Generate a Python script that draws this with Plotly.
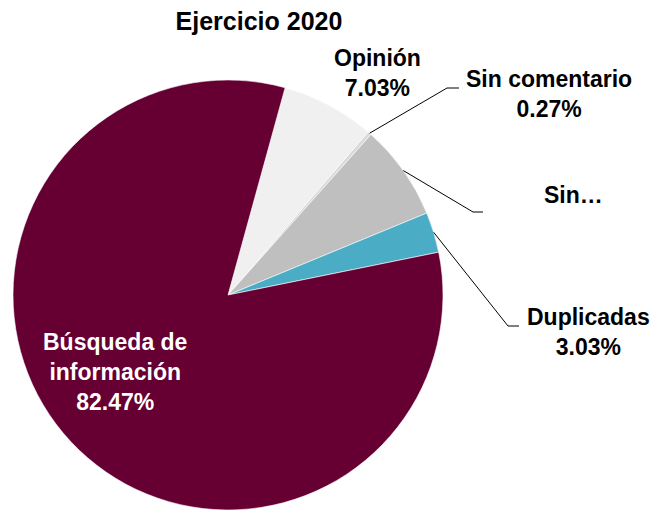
import plotly.graph_objects as go
import math

# Data
categories = ["Opinión", "Sin comentario", "Sin…", "Duplicadas", "Búsqueda de<br>información"]
values = [7.03, 0.27, 7.20, 3.03, 82.47]
colors = ["#F0F0F0", "#D9D9D9", "#BFBFBF", "#4BACC6", "#660033"]
title_text = "Ejercicio 2020"

W, H = 655, 510
cx, cy, r = 228, 295, 215
rotation = 15.4

fig = go.Figure()
fig.add_trace(go.Pie(
    labels=categories, values=values, sort=False, direction="clockwise",
    rotation=rotation,
    marker=dict(colors=colors, line=dict(color="#FFFFFF", width=0.6)),
    textinfo="none", hoverinfo="label+percent", showlegend=False,
    domain=dict(x=[(cx - r) / W, (cx + r) / W], y=[1 - (cy + r) / H, 1 - (cy - r) / H]),
))

def px(x):
    return x / W

def py(y):
    return 1 - y / H

# mid-angle of each slice (deg clockwise from 12 o'clock)
total = sum(values)
mids = []
acc = rotation
for v in values:
    a = v / total * 360
    mids.append(acc + a / 2)
    acc += a

FAM = "Liberation Sans, Arial, sans-serif"
font = dict(family=FAM, size=23, color="#000000")

# labels: text center x, y; leader elbow and end x
label_pos = {
    0: (377, 73, None),
    1: (549, 94, ((447, 88), 459)),
    2: (573, 195, ((473, 212), 483)),
    3: (588, 332, ((508, 326), 519)),
}
for i, (lx, ly, leader) in label_pos.items():
    name = categories[i]
    txt = f"<b>{name}</b>" if i == 2 else f"<b>{name}<br>{values[i]:.2f}%</b>"
    fig.add_annotation(x=px(lx), y=py(ly), xref="paper", yref="paper", text=txt,
                       xanchor="center", yanchor="middle",
                       showarrow=False, font=font, align="center")
    if leader:
        m = math.radians(mids[i])
        sx, sy = cx + r * math.sin(m), cy - r * math.cos(m)
        (ex, ey), hx = leader
        fig.add_shape(type="path", xref="paper", yref="paper",
                      path=f"M {px(sx)},{py(sy)} L {px(ex)},{py(ey)} L {px(hx)},{py(ey)}",
                      line=dict(color="#000000", width=1))

# inside label for the big slice
fig.add_annotation(x=px(115), y=py(372), xref="paper", yref="paper",
                   text=f"<b>{categories[4]}<br>{values[4]:.2f}%</b>",
                   xanchor="center", yanchor="middle",
                   showarrow=False, font=dict(family=FAM, size=23, color="#FFFFFF"),
                   align="center")

fig.update_layout(
    width=W, height=H, margin=dict(l=0, r=0, t=0, b=0),
    paper_bgcolor="#FFFFFF", plot_bgcolor="#FFFFFF",
    title=dict(text=f"<b>{title_text}</b>", x=259 / W, xanchor="center", y=py(21), yanchor="middle",
               font=dict(family=FAM, size=25, color="#000000")),
)

fig.write_html("out.html", config={"displayModeBar": False},
               post_script="document.body.style.margin='0';document.body.style.padding='0';")
